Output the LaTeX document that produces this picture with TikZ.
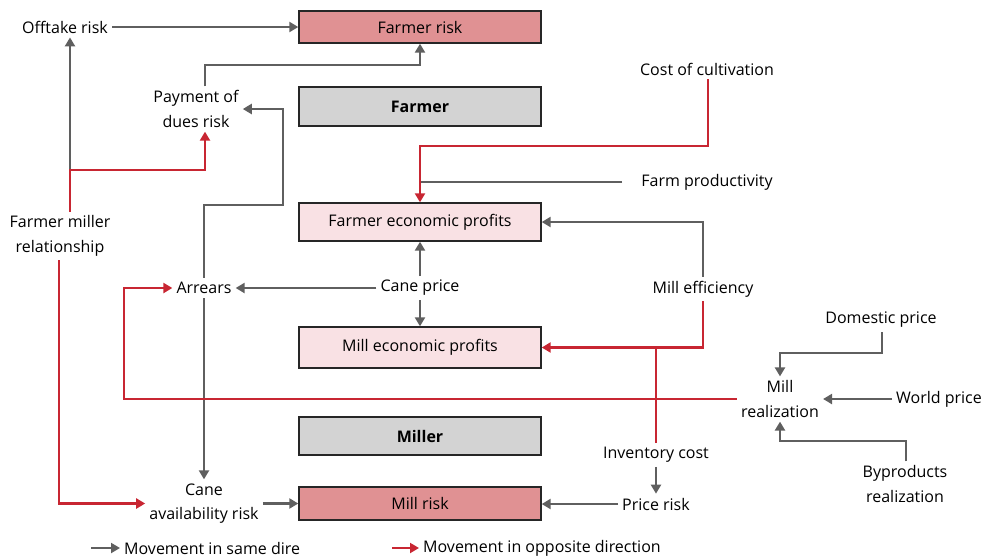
\documentclass[tikz,border=0pt]{standalone}
\usepackage{fontspec}
\setmainfont{Open Sans}
\usetikzlibrary{arrows.meta,positioning,calc}
\definecolor{linegray}{RGB}{95,95,95}
\definecolor{linered}{RGB}{200,38,50}
\definecolor{riskpink}{RGB}{224,145,147}
\definecolor{profitpink}{RGB}{249,225,228}
\definecolor{boxgray}{RGB}{211,211,211}

\begin{document}
\begin{tikzpicture}[x=1pt,y=-1pt]
	\tikzset{every node/.style={font=\fontsize{16}{24.5}\selectfont}}
	\tikzset{line/.style={draw,line width=2.5pt}}
	\tikzset{same/.style={line,linegray,-{Triangle[length=9pt,width=10pt]}}}
	\tikzset{opp/.style={line,linered,-{Triangle[length=9pt,width=10pt]}}}
	\tikzset{box/.style={draw=black!85,line width=1.4pt,minimum width=242pt,inner sep=0pt}}
	\tikzset{txt/.style={align=center,inner sep=4pt}}

	\useasboundingbox (0,0) rectangle (983,558);

	% boxes
	\node[box,fill=riskpink,minimum height=32pt] (frisk) at (420,27) {Farmer risk};
	\node[box,fill=boxgray,minimum height=39pt] (farmer) at (420,106.5) {\textbf{Farmer}};
	\node[box,fill=profitpink,minimum height=38pt] (fprofit) at (420,222) {Farmer economic profits};
	\node[box,fill=profitpink,minimum height=41pt] (mprofit) at (420,347.5) {Mill economic profits};
	\node[box,fill=boxgray,minimum height=38pt] (miller) at (420,436) {\textbf{Miller}};
	\node[box,fill=riskpink,minimum height=33pt] (mrisk) at (420,503.5) {Mill risk};

	% factors
	\node[txt] (offtake) at (65,27) {Offtake risk};
	\node[txt] (dues) at (196,109) {Payment of\\dues risk};
	\node[txt] (cost) at (707,69) {Cost of cultivation};
	\node[txt] (farmprod) at (707,182) {Farm productivity};
	\node[txt] (relation) at (60,236) {Farmer miller\\relationship};
	\node[txt] (arrears) at (204,288) {Arrears};
	\node[txt] (caneprice) at (420,288) {Cane price};
	\node[txt] (efficiency) at (703,289) {Mill efficiency};
	\node[txt] (domestic) at (881,320) {Domestic price};
	\node[txt] (realization) at (780,399) {Mill\\realization};
	\node[txt] (world) at (939,399) {World price};
	\node[txt] (inventory) at (656,455) {Inventory cost};
	\node[txt] (byproducts) at (905,484) {Byproducts\\realization};
	\node[txt] (availability) at (204,503.5) {Cane\\availability risk};
	\node[txt] (pricerisk) at (656,504) {Price risk};

	% bends
	\coordinate (duesbend) at (205,65);
	\coordinate (fmbranch) at (70,170);
	\coordinate (arrbend) at (283,205);
	\coordinate (costbend) at (708,146);
	\coordinate (realbend) at (124,399);
	\coordinate (dombend) at (882,353);
	\coordinate (bybend) at (906,441);

	% same direction
	\draw[same] (offtake) -- (frisk);
	\draw[same] (dues.north -| duesbend) -- (duesbend) -| (frisk.south);
	\draw[same] (fmbranch) -- (offtake.south -| fmbranch);
	\draw[same] (arrears.north) |- (arrbend) |- (dues.east);
	\draw[same] (caneprice.west) -- (caneprice.west -| arrears.east);
	\draw[same] (caneprice) -- (fprofit);
	\draw[same] (caneprice) -- (mprofit);
	\draw[same] (arrears) -- (availability);
	\draw[same] (availability) -- (mrisk);
	\draw[same] (pricerisk.west) -- (pricerisk.west -| mrisk.east);
	\draw[same] (inventory) -- (pricerisk);
	\draw[same] (efficiency.north) |- (fprofit.east);
	\draw[line,linegray] ([xshift=-15pt]farmprod.west) -- (farmprod.west -| fprofit);
	\draw[same] (world) -- (realization);
	\draw[same] (domestic.south -| dombend) -- (dombend) -| (realization.north);
	\draw[same] (byproducts.north -| bybend) -- (bybend) -| (realization.south);

	% opposite direction
	\draw[opp] (relation.north -| fmbranch) -- (fmbranch) -| (dues.south -| duesbend);
	\draw[opp] ([xshift=-1pt]relation.south) |- (availability);
	\draw[opp] (cost.south -| costbend) -- (costbend) -| (fprofit.north);
	\draw[opp] (efficiency.south) |- (mprofit.east);
	\draw[line,linered] (inventory.north) -- (inventory.north |- mprofit.east);
	\draw[opp] (realization.west) -- (realbend) |- (arrears.west);

	% legend
	\coordinate (samestart) at (91,548);
	\coordinate (oppstart) at (392,548);
	\node[txt,anchor=west] (samelegend) at (120,548) {Movement in same dire};
	\node[txt,anchor=west] (opplegend) at (419,548) {Movement in opposite direction};
	\draw[same,line width=2pt] (samestart) -- (samelegend.west);
	\draw[opp,line width=2pt] (oppstart) -- (opplegend.west);
\end{tikzpicture}
\end{document}
